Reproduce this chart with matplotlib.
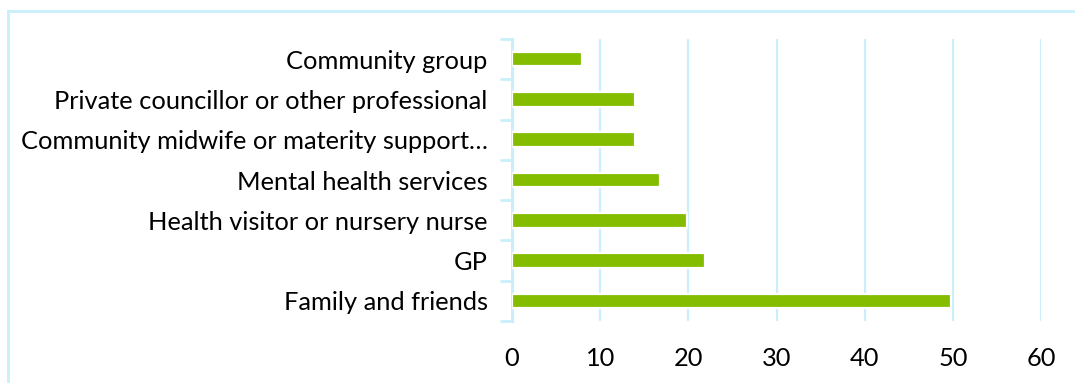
import matplotlib
matplotlib.use("Agg")
import matplotlib.pyplot as plt
from matplotlib.lines import Line2D
from matplotlib.ticker import FixedLocator

categories = [
    "Community group",
    "Private councillor or other professional",
    "Community midwife or materity support…",
    "Mental health services",
    "Health visitor or nursery nurse",
    "GP",
    "Family and friends",
]
values = [7.9, 13.9, 13.9, 16.8, 19.8, 21.9, 49.8]
x_ticks = [0, 10, 20, 30, 40, 50, 60]

BAR = "#84BD00"
GRID = "#C9EFFC"
FONT = "Lato"

W, H = 1075, 383
fig = plt.figure(figsize=(W / 100, H / 100), dpi=100)

# axes placed in pixel terms
left, right, top, bottom = 512, 1041, 39, 321
ax = fig.add_axes([left / W, 1 - bottom / H, (right - left) / W, (bottom - top) / H])

n = len(categories)
pos = list(range(n))
ax.barh(pos, values, height=0.36, color=BAR, edgecolor="white", linewidth=1.6, zorder=3)

ax.set_xlim(0, 60)
ax.set_ylim(n - 0.5, -0.5)

# x axis: labels only, vertical gridlines
ax.set_xticks(x_ticks)
ax.set_xticklabels([str(t) for t in x_ticks], fontsize=18.3, family=FONT, color="black")
ax.tick_params(axis="x", length=0, pad=19)
ax.grid(axis="x", color=GRID, linewidth=1.6, zorder=1)
ax.xaxis.get_gridlines()[0].set_visible(False)

# y axis: tick marks on category boundaries, labels on centres
ax.yaxis.set_major_locator(FixedLocator([i - 0.5 for i in range(n + 1)]))
ax.yaxis.set_minor_locator(FixedLocator(pos))
ax.set_yticklabels([""] * (n + 1))
ax.set_yticklabels(categories, minor=True, fontsize=18.3, family=FONT, color="black")
ax.tick_params(axis="y", which="major", length=9, width=2, color=GRID, direction="out")
ax.tick_params(axis="y", which="minor", length=0, pad=17.5)

for s in ["top", "right", "bottom"]:
    ax.spines[s].set_visible(False)
ax.spines["left"].set_color(GRID)
ax.spines["left"].set_linewidth(2.2)

# chart-area frame: top and left edges
fx, fy = 7.5 / W, 1 - 10.5 / H
fig.add_artist(Line2D([fx, 1.0], [fy, fy], transform=fig.transFigure, color=GRID, linewidth=2.0))
fig.add_artist(Line2D([fx, fx], [0.0, fy], transform=fig.transFigure, color=GRID, linewidth=2.0))

fig.savefig("out.png", dpi=100, facecolor="white")
